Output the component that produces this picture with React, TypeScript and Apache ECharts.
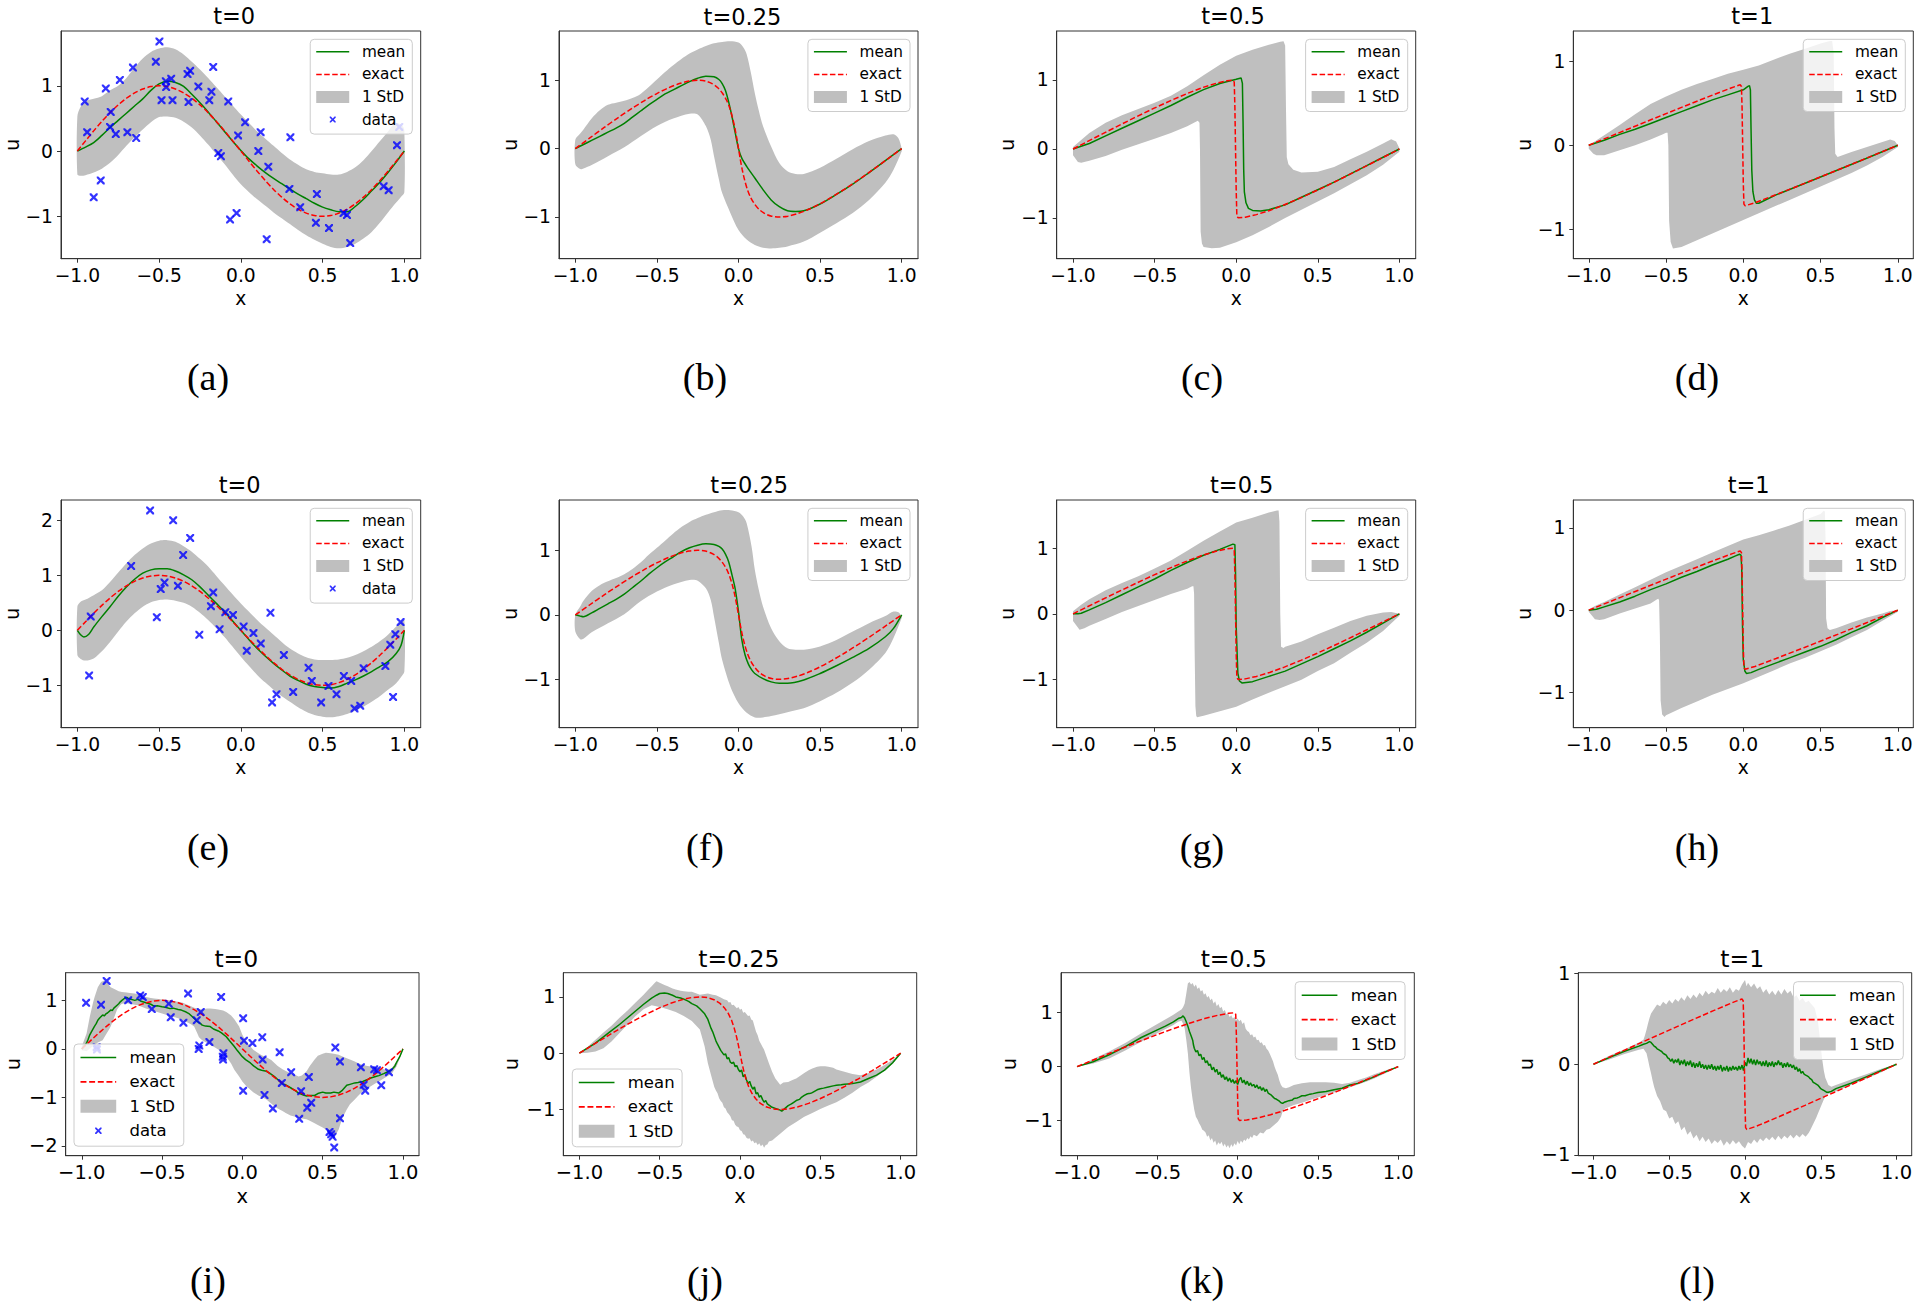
import React, { useEffect, useRef } from "react";
import * as echarts from "echarts";

// ---------------- tick values / labels ----------------
const xTicks = [-1, -0.5, 0, 0.5, 1];
const xTickLabels = ["\u22121.0", "\u22120.5", "0.0", "0.5", "1.0"];
const yTicksAll = [-2, -1, 0, 1, 2];
const yTickLabelsAll = ["\u22122", "\u22121", "0", "1", "2"];

const titles = ["t=0", "t=0.25", "t=0.5", "t=1", "t=0", "t=0.25", "t=0.5", "t=1", "t=0", "t=0.25", "t=0.5", "t=1"];
const captions = ["(a)", "(b)", "(c)", "(d)", "(e)", "(f)", "(g)", "(h)", "(i)", "(j)", "(k)", "(l)"];

// ---------------- exact solutions ----------------
const exactT0 = [[-1,0],[-0.95,0.156],[-0.9,0.309],[-0.85,0.454],[-0.8,0.588],[-0.75,0.707],[-0.7,0.809],[-0.65,0.891],[-0.6,0.951],[-0.55,0.988],[-0.5,1],[-0.45,0.988],[-0.4,0.951],[-0.35,0.891],[-0.3,0.809],[-0.25,0.707],[-0.2,0.588],[-0.15,0.454],[-0.1,0.309],[-0.05,0.156],[0,0],[0.05,-0.156],[0.1,-0.309],[0.15,-0.454],[0.2,-0.588],[0.25,-0.707],[0.3,-0.809],[0.35,-0.891],[0.4,-0.951],[0.45,-0.988],[0.5,-1],[0.55,-0.988],[0.6,-0.951],[0.65,-0.891],[0.7,-0.809],[0.75,-0.707],[0.8,-0.588],[0.85,-0.454],[0.9,-0.309],[0.95,-0.156],[1,0]];
const exactT025 = [[-1,0],[-0.911,0.156],[-0.823,0.309],[-0.737,0.454],[-0.653,0.588],[-0.573,0.707],[-0.498,0.809],[-0.427,0.891],[-0.362,0.951],[-0.303,0.988],[-0.25,1],[-0.203,0.988],[-0.162,0.951],[-0.127,0.891],[-0.098,0.809],[-0.073,0.707],[-0.053,0.588],[-0.037,0.454],[-0.023,0.309],[-0.011,0.156],[0,0],[0.011,-0.156],[0.023,-0.309],[0.037,-0.454],[0.053,-0.588],[0.073,-0.707],[0.098,-0.809],[0.127,-0.891],[0.162,-0.951],[0.203,-0.988],[0.25,-1],[0.303,-0.988],[0.362,-0.951],[0.427,-0.891],[0.498,-0.809],[0.573,-0.707],[0.653,-0.588],[0.737,-0.454],[0.823,-0.309],[0.911,-0.156],[1,0]];
const exactT05 = [[-1,0],[-0.872,0.156],[-0.745,0.309],[-0.623,0.454],[-0.506,0.588],[-0.396,0.707],[-0.295,0.809],[-0.205,0.891],[-0.124,0.951],[-0.056,0.988],[-0.02,0.998],[-0.012,0.97],[-0.008,0.6],[-0.004,0],[0,-0.6],[0.004,-0.97],[0.012,-0.998],[0.056,-0.988],[0.124,-0.951],[0.205,-0.891],[0.295,-0.809],[0.396,-0.707],[0.506,-0.588],[0.623,-0.454],[0.745,-0.309],[0.872,-0.156],[1,0]];
const exactT1 = [[-1,0],[-0.794,0.156],[-0.591,0.309],[-0.396,0.454],[-0.212,0.588],[-0.075,0.685],[-0.02,0.72],[-0.012,0.70],[-0.008,0.45],[-0.004,0],[0,-0.45],[0.004,-0.70],[0.012,-0.72],[0.075,-0.685],[0.212,-0.588],[0.396,-0.454],[0.591,-0.309],[0.794,-0.156],[1,0]];

// ---------------- panel (a) ----------------
const meanA = [[-1,0],[-0.95,0.06],[-0.9,0.13],[-0.85,0.24],[-0.8,0.36],[-0.75,0.47],[-0.7,0.58],[-0.65,0.69],[-0.6,0.8],[-0.55,0.93],[-0.5,1.03],[-0.45,1.07],[-0.4,1.05],[-0.35,0.99],[-0.3,0.87],[-0.25,0.74],[-0.2,0.6],[-0.15,0.45],[-0.1,0.3],[-0.05,0.15],[0,0.01],[0.05,-0.12],[0.1,-0.23],[0.15,-0.33],[0.2,-0.42],[0.25,-0.5],[0.3,-0.58],[0.35,-0.66],[0.4,-0.73],[0.45,-0.8],[0.5,-0.86],[0.55,-0.9],[0.6,-0.93],[0.65,-0.93],[0.7,-0.85],[0.75,-0.74],[0.8,-0.61],[0.85,-0.48],[0.9,-0.33],[0.95,-0.17],[1,0]];
const upperA = [[-1,0.53],[-0.98,0.68],[-0.95,0.76],[-0.9,0.8],[-0.85,0.84],[-0.8,0.93],[-0.75,1.0],[-0.7,1.12],[-0.65,1.28],[-0.6,1.42],[-0.55,1.52],[-0.5,1.57],[-0.45,1.59],[-0.4,1.56],[-0.35,1.48],[-0.3,1.37],[-0.25,1.25],[-0.2,1.12],[-0.15,0.98],[-0.1,0.84],[-0.05,0.7],[0,0.56],[0.05,0.43],[0.1,0.3],[0.15,0.19],[0.2,0.08],[0.25,-0.03],[0.3,-0.13],[0.35,-0.21],[0.4,-0.28],[0.45,-0.32],[0.5,-0.34],[0.55,-0.36],[0.6,-0.36],[0.65,-0.32],[0.7,-0.25],[0.75,-0.14],[0.8,0.0],[0.85,0.15],[0.9,0.3],[0.93,0.4],[0.96,0.43],[0.99,0.38],[1,0.32]];
const lowerA = [[-1,-0.36],[-0.98,-0.38],[-0.95,-0.37],[-0.9,-0.33],[-0.85,-0.27],[-0.8,-0.18],[-0.75,-0.06],[-0.7,0.08],[-0.65,0.21],[-0.6,0.33],[-0.55,0.44],[-0.5,0.52],[-0.45,0.53],[-0.4,0.51],[-0.35,0.45],[-0.3,0.36],[-0.25,0.24],[-0.2,0.1],[-0.15,-0.05],[-0.1,-0.2],[-0.05,-0.36],[0,-0.51],[0.05,-0.63],[0.1,-0.74],[0.15,-0.84],[0.2,-0.94],[0.25,-1.03],[0.3,-1.12],[0.35,-1.21],[0.4,-1.29],[0.45,-1.36],[0.5,-1.42],[0.55,-1.47],[0.6,-1.49],[0.65,-1.47],[0.7,-1.42],[0.75,-1.34],[0.8,-1.24],[0.85,-1.1],[0.9,-0.94],[0.95,-0.79],[0.98,-0.7],[1,-0.63]];
const dataA = [[-0.955,0.76],[-0.94,0.29],[-0.9,-0.71],[-0.857,-0.45],[-0.826,0.96],[-0.8,0.37],[-0.796,0.6],[-0.765,0.26],[-0.74,1.09],[-0.694,0.29],[-0.66,1.28],[-0.64,0.2],[-0.52,1.37],[-0.498,1.68],[-0.485,0.78],[-0.459,1.07],[-0.457,0.98],[-0.426,1.11],[-0.418,0.78],[-0.326,1.18],[-0.31,1.23],[-0.32,0.75],[-0.26,0.99],[-0.193,0.78],[-0.18,0.91],[-0.169,1.29],[-0.138,-0.03],[-0.122,-0.08],[-0.077,0.76],[-0.066,-1.05],[-0.026,-0.95],[-0.017,0.24],[0.026,0.44],[0.107,0.0],[0.121,0.29],[0.158,-1.35],[0.168,-0.24],[0.297,-0.58],[0.303,0.21],[0.363,-0.86],[0.459,-1.1],[0.465,-0.66],[0.539,-1.18],[0.628,-0.95],[0.649,-0.98],[0.669,-1.41],[0.873,-0.54],[0.904,-0.6],[0.955,0.09],[0.969,0.37]];

// ---------------- panel (b) ----------------
const meanB = [[-1,0],[-0.95,0.06],[-0.9,0.12],[-0.85,0.18],[-0.8,0.24],[-0.75,0.3],[-0.7,0.37],[-0.65,0.46],[-0.6,0.55],[-0.55,0.64],[-0.5,0.72],[-0.45,0.8],[-0.4,0.86],[-0.35,0.92],[-0.3,0.98],[-0.25,1.03],[-0.2,1.06],[-0.15,1.05],[-0.12,1.01],[-0.1,0.95],[-0.08,0.85],[-0.06,0.68],[-0.04,0.47],[-0.02,0.23],[0,0.0],[0.02,-0.14],[0.05,-0.26],[0.1,-0.43],[0.15,-0.6],[0.2,-0.75],[0.25,-0.85],[0.3,-0.91],[0.35,-0.92],[0.4,-0.91],[0.5,-0.81],[0.6,-0.67],[0.7,-0.52],[0.8,-0.35],[0.9,-0.175],[1,0]];
const upperB = [[-1,0.13],[-0.97,0.22],[-0.95,0.28],[-0.9,0.44],[-0.85,0.56],[-0.8,0.64],[-0.75,0.67],[-0.7,0.7],[-0.65,0.74],[-0.6,0.8],[-0.55,0.9],[-0.5,1.01],[-0.45,1.12],[-0.4,1.22],[-0.35,1.31],[-0.3,1.39],[-0.25,1.45],[-0.2,1.5],[-0.15,1.54],[-0.1,1.56],[-0.05,1.57],[0,1.55],[0.03,1.48],[0.05,1.38],[0.075,1.12],[0.1,0.81],[0.125,0.55],[0.15,0.33],[0.2,0.03],[0.25,-0.21],[0.3,-0.33],[0.35,-0.37],[0.4,-0.37],[0.5,-0.28],[0.6,-0.15],[0.7,-0.01],[0.8,0.11],[0.9,0.19],[0.95,0.21],[0.98,0.15],[1,0.0]];
const lowerB = [[-1,-0.23],[-0.97,-0.3],[-0.95,-0.29],[-0.9,-0.24],[-0.8,-0.11],[-0.7,0.02],[-0.6,0.18],[-0.5,0.33],[-0.4,0.44],[-0.3,0.51],[-0.25,0.5],[-0.2,0.33],[-0.17,0.13],[-0.15,-0.11],[-0.12,-0.45],[-0.1,-0.65],[-0.05,-0.94],[0,-1.19],[0.05,-1.33],[0.1,-1.41],[0.15,-1.45],[0.2,-1.46],[0.25,-1.45],[0.3,-1.43],[0.4,-1.36],[0.5,-1.23],[0.6,-1.09],[0.7,-0.94],[0.8,-0.75],[0.9,-0.5],[0.95,-0.31],[1,-0.04]];

// ---------------- panel (c) ----------------
const meanC = [[-1,0],[-0.9,0.08],[-0.8,0.19],[-0.7,0.3],[-0.6,0.41],[-0.5,0.52],[-0.4,0.63],[-0.3,0.75],[-0.2,0.86],[-0.1,0.95],[0,1.01],[0.03,1.03],[0.038,0.95],[0.042,0.4],[0.046,-0.3],[0.05,-0.62],[0.06,-0.78],[0.075,-0.86],[0.1,-0.89],[0.15,-0.9],[0.2,-0.88],[0.3,-0.81],[0.4,-0.7],[0.5,-0.59],[0.6,-0.48],[0.7,-0.36],[0.8,-0.24],[0.9,-0.12],[1,0]];
const upperC = [[-1,0.03],[-0.95,0.13],[-0.9,0.23],[-0.8,0.38],[-0.7,0.49],[-0.6,0.58],[-0.5,0.67],[-0.4,0.77],[-0.3,0.91],[-0.2,1.07],[-0.1,1.22],[0,1.35],[0.1,1.44],[0.2,1.51],[0.27,1.555],[0.29,1.56],[0.3,1.5],[0.305,0.6],[0.31,-0.12],[0.32,-0.22],[0.35,-0.3],[0.4,-0.34],[0.5,-0.33],[0.6,-0.26],[0.7,-0.15],[0.8,-0.04],[0.9,0.08],[0.95,0.14],[0.98,0.11],[1,0.01]];
const lowerC = [[-1,-0.09],[-0.97,-0.19],[-0.95,-0.2],[-0.9,-0.17],[-0.8,-0.1],[-0.7,-0.01],[-0.6,0.07],[-0.5,0.15],[-0.4,0.23],[-0.3,0.33],[-0.25,0.39],[-0.235,0.41],[-0.225,0.38],[-0.222,0.0],[-0.218,-1.2],[-0.21,-1.37],[-0.2,-1.42],[-0.15,-1.44],[-0.1,-1.43],[0,-1.35],[0.1,-1.25],[0.2,-1.13],[0.3,-1.0],[0.4,-0.88],[0.5,-0.76],[0.6,-0.64],[0.7,-0.51],[0.8,-0.38],[0.9,-0.23],[1,-0.04]];

// ---------------- panel (d) ----------------
const meanD = [[-1,0],[-0.9,0.06],[-0.8,0.13],[-0.7,0.19],[-0.6,0.26],[-0.5,0.33],[-0.4,0.4],[-0.3,0.47],[-0.2,0.54],[-0.1,0.6],[0,0.66],[0.03,0.7],[0.04,0.71],[0.046,0.66],[0.05,0.2],[0.055,-0.3],[0.062,-0.55],[0.072,-0.65],[0.085,-0.69],[0.1,-0.69],[0.212,-0.59],[0.396,-0.455],[0.591,-0.31],[0.794,-0.157],[1,0]];
const upperD = [[-1,0.0],[-0.95,0.06],[-0.9,0.12],[-0.8,0.24],[-0.7,0.37],[-0.6,0.49],[-0.5,0.58],[-0.4,0.66],[-0.3,0.73],[-0.2,0.79],[-0.1,0.85],[0,0.9],[0.1,0.95],[0.2,1.02],[0.3,1.09],[0.4,1.15],[0.5,1.21],[0.56,1.24],[0.575,1.24],[0.585,1.1],[0.59,0.2],[0.595,-0.1],[0.61,-0.14],[0.7,-0.08],[0.8,-0.02],[0.9,0.04],[0.95,0.07],[0.98,0.05],[1,0.0]];
const lowerD = [[-1,-0.04],[-0.97,-0.1],[-0.95,-0.12],[-0.9,-0.12],[-0.8,-0.06],[-0.7,0.0],[-0.6,0.07],[-0.52,0.13],[-0.5,0.15],[-0.49,0.15],[-0.485,0.0],[-0.48,-0.9],[-0.47,-1.15],[-0.455,-1.23],[-0.4,-1.21],[-0.3,-1.13],[-0.2,-1.05],[-0.1,-0.97],[0,-0.89],[0.1,-0.81],[0.2,-0.73],[0.3,-0.65],[0.4,-0.57],[0.5,-0.49],[0.6,-0.41],[0.7,-0.33],[0.8,-0.24],[0.9,-0.14],[1,-0.02]];

// ---------------- panel (e) ----------------
const meanE = [[-1,0],[-0.98,-0.08],[-0.96,-0.12],[-0.93,-0.07],[-0.9,0.06],[-0.85,0.25],[-0.8,0.43],[-0.75,0.62],[-0.7,0.79],[-0.65,0.93],[-0.6,1.04],[-0.55,1.1],[-0.5,1.12],[-0.45,1.12],[-0.4,1.08],[-0.35,1.01],[-0.3,0.92],[-0.25,0.79],[-0.2,0.64],[-0.15,0.49],[-0.1,0.34],[-0.05,0.17],[0,0.0],[0.05,-0.17],[0.1,-0.33],[0.15,-0.47],[0.2,-0.6],[0.25,-0.72],[0.3,-0.83],[0.35,-0.91],[0.4,-0.98],[0.45,-1.02],[0.5,-1.04],[0.55,-1.05],[0.6,-1.02],[0.65,-0.96],[0.7,-0.9],[0.75,-0.83],[0.8,-0.75],[0.85,-0.66],[0.9,-0.57],[0.95,-0.42],[0.98,-0.27],[1,0]];
const upperE = [[-1,0.43],[-0.98,0.52],[-0.95,0.56],[-0.9,0.64],[-0.85,0.73],[-0.8,0.88],[-0.75,1.05],[-0.7,1.22],[-0.65,1.37],[-0.6,1.49],[-0.55,1.58],[-0.5,1.63],[-0.45,1.64],[-0.4,1.61],[-0.35,1.53],[-0.3,1.43],[-0.25,1.3],[-0.2,1.16],[-0.15,0.99],[-0.1,0.82],[-0.05,0.65],[0,0.49],[0.05,0.34],[0.1,0.19],[0.15,0.05],[0.2,-0.08],[0.25,-0.21],[0.3,-0.33],[0.35,-0.42],[0.4,-0.49],[0.45,-0.53],[0.5,-0.54],[0.55,-0.54],[0.6,-0.53],[0.65,-0.5],[0.7,-0.45],[0.75,-0.38],[0.8,-0.3],[0.85,-0.2],[0.9,-0.08],[0.95,0.07],[0.98,0.15],[1,0.19]];
const lowerE = [[-1,-0.45],[-0.98,-0.52],[-0.95,-0.55],[-0.9,-0.51],[-0.85,-0.38],[-0.8,-0.21],[-0.75,-0.02],[-0.7,0.16],[-0.65,0.31],[-0.6,0.43],[-0.55,0.51],[-0.5,0.55],[-0.45,0.56],[-0.4,0.54],[-0.35,0.5],[-0.3,0.43],[-0.25,0.32],[-0.2,0.19],[-0.15,0.04],[-0.1,-0.12],[-0.05,-0.3],[0,-0.48],[0.05,-0.65],[0.1,-0.81],[0.15,-0.95],[0.2,-1.08],[0.25,-1.2],[0.3,-1.3],[0.35,-1.4],[0.4,-1.48],[0.45,-1.54],[0.5,-1.57],[0.55,-1.58],[0.6,-1.56],[0.65,-1.52],[0.7,-1.46],[0.75,-1.39],[0.8,-1.3],[0.85,-1.2],[0.9,-1.08],[0.95,-0.96],[0.98,-0.85],[1,-0.75]];
const dataE = [[-0.928,-0.82],[-0.918,0.25],[-0.671,1.17],[-0.555,2.18],[-0.514,0.24],[-0.49,0.75],[-0.467,0.87],[-0.414,2.0],[-0.385,0.81],[-0.353,1.37],[-0.31,1.68],[-0.254,-0.08],[-0.183,0.44],[-0.169,0.69],[-0.13,0.02],[-0.095,0.33],[-0.048,0.28],[0.017,0.07],[0.036,-0.37],[0.077,-0.05],[0.122,-0.24],[0.181,0.32],[0.191,-1.31],[0.218,-1.16],[0.263,-0.45],[0.32,-1.12],[0.414,-0.68],[0.434,-0.92],[0.491,-1.31],[0.536,-1.01],[0.585,-1.16],[0.63,-0.83],[0.675,-0.92],[0.695,-1.42],[0.73,-1.37],[0.751,-0.69],[0.884,-0.65],[0.914,-0.26],[0.931,-1.21],[0.945,-0.07],[0.977,0.15]];

// ---------------- panel (f) ----------------
const meanF = [[-1,0],[-0.97,-0.02],[-0.95,-0.03],[-0.9,0.03],[-0.85,0.1],[-0.8,0.17],[-0.75,0.24],[-0.7,0.32],[-0.65,0.42],[-0.6,0.52],[-0.55,0.63],[-0.5,0.73],[-0.45,0.82],[-0.4,0.9],[-0.35,0.98],[-0.3,1.04],[-0.25,1.08],[-0.2,1.1],[-0.15,1.09],[-0.12,1.06],[-0.1,1.02],[-0.08,0.94],[-0.06,0.82],[-0.04,0.62],[-0.02,0.4],[0,0.05],[0.02,-0.38],[0.04,-0.62],[0.06,-0.76],[0.08,-0.85],[0.1,-0.91],[0.15,-0.99],[0.2,-1.04],[0.25,-1.06],[0.3,-1.06],[0.4,-1.01],[0.5,-0.91],[0.6,-0.79],[0.7,-0.66],[0.8,-0.52],[0.9,-0.34],[0.95,-0.21],[1,0]];
const upperF = [[-1,0.0],[-0.97,0.13],[-0.95,0.22],[-0.9,0.37],[-0.85,0.46],[-0.8,0.52],[-0.75,0.57],[-0.7,0.63],[-0.65,0.71],[-0.6,0.81],[-0.55,0.93],[-0.5,1.04],[-0.45,1.15],[-0.4,1.26],[-0.35,1.36],[-0.3,1.44],[-0.25,1.5],[-0.2,1.55],[-0.15,1.59],[-0.1,1.62],[-0.05,1.62],[0,1.59],[0.03,1.52],[0.05,1.42],[0.08,1.06],[0.1,0.7],[0.125,0.38],[0.15,0.13],[0.2,-0.21],[0.25,-0.41],[0.3,-0.52],[0.35,-0.54],[0.4,-0.54],[0.5,-0.49],[0.6,-0.39],[0.7,-0.26],[0.8,-0.13],[0.9,-0.02],[0.95,0.05],[0.98,0.04],[1,-0.03]];
const lowerF = [[-1,-0.26],[-0.97,-0.38],[-0.95,-0.37],[-0.9,-0.27],[-0.8,-0.13],[-0.7,0.01],[-0.6,0.21],[-0.5,0.36],[-0.4,0.47],[-0.3,0.54],[-0.25,0.53],[-0.2,0.41],[-0.17,0.23],[-0.15,-0.03],[-0.12,-0.44],[-0.1,-0.7],[-0.05,-1.11],[0,-1.37],[0.05,-1.52],[0.1,-1.59],[0.15,-1.59],[0.2,-1.57],[0.3,-1.51],[0.4,-1.45],[0.5,-1.34],[0.6,-1.21],[0.7,-1.05],[0.8,-0.85],[0.9,-0.59],[0.95,-0.36],[1,-0.05]];

// ---------------- panel (g) ----------------
const meanG = [[-1,0],[-0.97,0.0],[-0.95,0.01],[-0.9,0.06],[-0.8,0.17],[-0.7,0.29],[-0.6,0.41],[-0.5,0.53],[-0.4,0.66],[-0.3,0.78],[-0.2,0.89],[-0.1,0.98],[-0.02,1.06],[-0.008,1.05],[-0.004,0.6],[0,-0.2],[0.01,-0.9],[0.02,-1.02],[0.035,-1.05],[0.1,-1.03],[0.2,-0.95],[0.3,-0.87],[0.4,-0.76],[0.5,-0.65],[0.6,-0.53],[0.7,-0.41],[0.8,-0.28],[0.9,-0.14],[0.95,-0.07],[1,0]];
const upperG = [[-1,0.04],[-0.95,0.14],[-0.9,0.22],[-0.8,0.36],[-0.7,0.47],[-0.6,0.57],[-0.5,0.69],[-0.4,0.81],[-0.3,0.96],[-0.2,1.11],[-0.1,1.25],[0,1.39],[0.1,1.46],[0.2,1.54],[0.25,1.57],[0.26,1.57],[0.265,1.4],[0.27,0.0],[0.275,-0.5],[0.29,-0.52],[0.3,-0.5],[0.4,-0.42],[0.5,-0.31],[0.6,-0.21],[0.7,-0.11],[0.8,-0.03],[0.9,0.02],[0.95,0.03],[1,0]];
const lowerG = [[-1,-0.11],[-0.96,-0.24],[-0.93,-0.22],[-0.9,-0.18],[-0.8,-0.08],[-0.7,0.03],[-0.6,0.12],[-0.5,0.21],[-0.4,0.3],[-0.3,0.38],[-0.27,0.42],[-0.262,0.42],[-0.258,0.3],[-0.255,-0.5],[-0.25,-1.4],[-0.245,-1.55],[-0.24,-1.57],[-0.2,-1.55],[-0.1,-1.48],[0,-1.41],[0.1,-1.3],[0.2,-1.2],[0.3,-1.1],[0.4,-1.0],[0.5,-0.87],[0.6,-0.75],[0.7,-0.59],[0.8,-0.44],[0.9,-0.26],[1,-0.03]];

// ---------------- panel (h) ----------------
const meanH = [[-1,0],[-0.95,0.01],[-0.9,0.04],[-0.8,0.1],[-0.7,0.17],[-0.6,0.25],[-0.5,0.32],[-0.4,0.4],[-0.3,0.47],[-0.2,0.55],[-0.1,0.62],[-0.05,0.66],[-0.025,0.68],[-0.015,0.67],[-0.01,0.5],[-0.005,-0.2],[0,-0.6],[0.01,-0.74],[0.02,-0.77],[0.05,-0.76],[0.1,-0.72],[0.2,-0.65],[0.3,-0.58],[0.4,-0.51],[0.5,-0.44],[0.6,-0.36],[0.7,-0.27],[0.8,-0.19],[0.9,-0.09],[1,0]];
const upperH = [[-1,0.01],[-0.95,0.06],[-0.9,0.1],[-0.8,0.19],[-0.7,0.28],[-0.6,0.37],[-0.5,0.46],[-0.4,0.54],[-0.3,0.62],[-0.2,0.7],[-0.1,0.78],[0,0.86],[0.1,0.91],[0.2,0.97],[0.3,1.03],[0.4,1.1],[0.5,1.17],[0.52,1.21],[0.528,1.2],[0.532,0.9],[0.536,-0.1],[0.545,-0.22],[0.56,-0.24],[0.6,-0.22],[0.7,-0.15],[0.8,-0.09],[0.9,-0.04],[0.95,-0.01],[1,0]];
const lowerH = [[-1,-0.02],[-0.96,-0.11],[-0.93,-0.12],[-0.9,-0.11],[-0.8,-0.04],[-0.7,0.02],[-0.6,0.08],[-0.56,0.13],[-0.55,0.14],[-0.545,0.12],[-0.54,-0.3],[-0.535,-1.1],[-0.525,-1.27],[-0.51,-1.3],[-0.5,-1.28],[-0.4,-1.19],[-0.3,-1.11],[-0.2,-1.03],[-0.1,-0.96],[0,-0.89],[0.1,-0.81],[0.2,-0.73],[0.3,-0.65],[0.4,-0.58],[0.5,-0.5],[0.6,-0.42],[0.7,-0.33],[0.8,-0.24],[0.9,-0.13],[1,-0.02]];

// ---------------- panel (i) ----------------
const meanI = [[-1,0],[-0.98,0.08],[-0.97,0.12],[-0.96,0.2],[-0.95,0.29],[-0.94,0.35],[-0.92,0.47],[-0.91,0.52],[-0.9,0.59],[-0.89,0.63],[-0.87,0.7],[-0.86,0.68],[-0.85,0.72],[-0.84,0.74],[-0.82,0.8],[-0.81,0.79],[-0.8,0.84],[-0.78,0.9],[-0.77,0.93],[-0.76,0.97],[-0.75,1.0],[-0.73,1.05],[-0.72,1.06],[-0.71,1.04],[-0.7,1.03],[-0.68,1.01],[-0.67,1.0],[-0.65,1.02],[-0.63,0.98],[-0.62,0.97],[-0.6,0.95],[-0.58,0.93],[-0.57,0.92],[-0.55,0.88],[-0.53,0.89],[-0.5,0.87],[-0.48,0.86],[-0.45,0.83],[-0.43,0.84],[-0.4,0.81],[-0.38,0.8],[-0.35,0.76],[-0.33,0.72],[-0.3,0.63],[-0.28,0.56],[-0.26,0.52],[-0.25,0.49],[-0.23,0.47],[-0.2,0.46],[-0.18,0.41],[-0.15,0.37],[-0.13,0.33],[-0.1,0.25],[-0.08,0.17],[-0.05,0.05],[-0.03,-0.04],[0,-0.16],[0.02,-0.22],[0.05,-0.29],[0.07,-0.35],[0.1,-0.42],[0.12,-0.44],[0.15,-0.46],[0.17,-0.5],[0.2,-0.57],[0.22,-0.63],[0.25,-0.72],[0.27,-0.74],[0.3,-0.8],[0.33,-0.86],[0.35,-0.91],[0.38,-0.95],[0.4,-0.97],[0.42,-0.96],[0.45,-0.96],[0.47,-0.92],[0.5,-0.89],[0.52,-0.91],[0.55,-0.91],[0.57,-0.89],[0.6,-0.91],[0.62,-0.86],[0.65,-0.75],[0.67,-0.73],[0.7,-0.7],[0.72,-0.69],[0.75,-0.67],[0.78,-0.63],[0.8,-0.6],[0.83,-0.57],[0.85,-0.55],[0.88,-0.51],[0.9,-0.48],[0.93,-0.43],[0.95,-0.35],[0.96,-0.28],[0.98,-0.16],[1,0]];
const upperI = [[-1,0.05],[-0.97,0.32],[-0.95,0.66],[-0.93,0.95],[-0.92,1.07],[-0.9,1.27],[-0.88,1.38],[-0.86,1.41],[-0.84,1.36],[-0.82,1.27],[-0.8,1.24],[-0.77,1.19],[-0.75,1.17],[-0.72,1.16],[-0.7,1.15],[-0.67,1.14],[-0.65,1.12],[-0.62,1.09],[-0.6,1.07],[-0.57,1.05],[-0.55,1.04],[-0.52,1.03],[-0.5,1.02],[-0.47,1.01],[-0.45,1.0],[-0.42,0.98],[-0.4,0.97],[-0.37,0.95],[-0.35,0.92],[-0.32,0.88],[-0.3,0.85],[-0.27,0.82],[-0.25,0.81],[-0.22,0.83],[-0.2,0.83],[-0.17,0.82],[-0.15,0.81],[-0.12,0.79],[-0.1,0.76],[-0.07,0.69],[-0.05,0.61],[-0.02,0.46],[0,0.29],[0.02,0.17],[0.05,0.05],[0.07,-0.02],[0.1,-0.09],[0.12,-0.13],[0.15,-0.17],[0.18,-0.23],[0.2,-0.29],[0.22,-0.35],[0.25,-0.42],[0.28,-0.47],[0.3,-0.5],[0.33,-0.54],[0.35,-0.57],[0.37,-0.55],[0.4,-0.46],[0.42,-0.35],[0.45,-0.22],[0.47,-0.14],[0.5,-0.1],[0.52,-0.08],[0.55,-0.09],[0.57,-0.1],[0.6,-0.12],[0.62,-0.15],[0.65,-0.19],[0.67,-0.22],[0.7,-0.26],[0.72,-0.29],[0.75,-0.33],[0.78,-0.35],[0.8,-0.36],[0.83,-0.38],[0.85,-0.4],[0.88,-0.42],[0.9,-0.43],[0.93,-0.4],[0.96,-0.26],[0.98,-0.14],[1,0]];
const lowerI = [[-1,-0.03],[-0.97,-0.05],[-0.95,0.01],[-0.92,0.08],[-0.9,0.13],[-0.87,0.18],[-0.85,0.29],[-0.83,0.4],[-0.82,0.46],[-0.8,0.63],[-0.78,0.81],[-0.76,0.9],[-0.75,0.93],[-0.72,0.94],[-0.7,0.93],[-0.67,0.91],[-0.65,0.9],[-0.62,0.86],[-0.6,0.83],[-0.57,0.8],[-0.55,0.78],[-0.52,0.75],[-0.5,0.73],[-0.47,0.7],[-0.45,0.67],[-0.42,0.65],[-0.4,0.63],[-0.37,0.59],[-0.35,0.56],[-0.32,0.51],[-0.3,0.46],[-0.28,0.32],[-0.27,0.24],[-0.25,0.18],[-0.22,0.12],[-0.2,0.08],[-0.17,0.03],[-0.15,-0.01],[-0.12,-0.09],[-0.1,-0.16],[-0.07,-0.3],[-0.05,-0.43],[-0.02,-0.57],[0,-0.67],[0.02,-0.75],[0.05,-0.84],[0.07,-0.9],[0.1,-0.96],[0.12,-0.99],[0.15,-1.04],[0.17,-1.1],[0.2,-1.18],[0.22,-1.23],[0.25,-1.28],[0.27,-1.32],[0.3,-1.37],[0.33,-1.4],[0.35,-1.42],[0.38,-1.44],[0.4,-1.45],[0.42,-1.48],[0.45,-1.53],[0.47,-1.57],[0.5,-1.62],[0.52,-1.66],[0.55,-1.72],[0.57,-1.81],[0.58,-1.78],[0.6,-1.66],[0.62,-1.45],[0.65,-1.25],[0.67,-1.14],[0.7,-1.04],[0.72,-0.97],[0.75,-0.87],[0.78,-0.81],[0.8,-0.77],[0.83,-0.71],[0.85,-0.67],[0.88,-0.61],[0.9,-0.57],[0.93,-0.51],[0.96,-0.36],[0.98,-0.2],[1,-0.02]];
const dataI = [[-0.973,0.95],[-0.907,0.04],[-0.905,-0.01],[-0.88,0.91],[-0.845,1.4],[-0.711,1.0],[-0.636,1.1],[-0.62,1.07],[-0.564,0.82],[-0.458,0.93],[-0.446,0.65],[-0.367,0.54],[-0.338,1.14],[-0.284,0.59],[-0.272,0.0],[-0.268,0.07],[-0.259,0.76],[-0.205,0.14],[-0.132,1.07],[-0.122,-0.16],[-0.118,-0.09],[-0.12,-0.22],[0.005,0.63],[0.005,-0.86],[0.01,0.17],[0.063,0.12],[0.124,0.24],[0.126,-0.22],[0.138,-0.95],[0.19,-1.23],[0.232,-0.07],[0.246,-0.7],[0.304,-0.48],[0.354,-1.44],[0.366,-0.87],[0.404,-1.21],[0.414,-0.58],[0.429,-1.11],[0.543,-1.71],[0.553,-1.76],[0.562,-1.81],[0.572,-2.03],[0.579,0.03],[0.608,-0.26],[0.608,-1.43],[0.738,-0.38],[0.755,-0.74],[0.765,-0.86],[0.821,-0.42],[0.838,-0.44],[0.865,-0.75],[0.913,-0.48]];

// ---------------- panel (j) ----------------
const meanJ = [[-1,0],[-0.95,0.09],[-0.9,0.18],[-0.85,0.29],[-0.8,0.4],[-0.75,0.51],[-0.7,0.63],[-0.65,0.75],[-0.6,0.87],[-0.55,0.98],[-0.52,1.03],[-0.5,1.06],[-0.47,1.07],[-0.45,1.06],[-0.42,1.03],[-0.4,1.0],[-0.37,0.98],[-0.35,0.96],[-0.32,0.92],[-0.3,0.88],[-0.27,0.84],[-0.25,0.79],[-0.22,0.7],[-0.2,0.6],[-0.18,0.44],[-0.17,0.38],[-0.15,0.22],[-0.14,0.16],[-0.12,0.05],[-0.1,-0.03],[-0.09,-0.01],[-0.08,-0.1],[-0.07,-0.08],[-0.06,-0.16],[-0.05,-0.18],[-0.04,-0.16],[-0.03,-0.24],[-0.02,-0.22],[-0.01,-0.29],[0,-0.33],[0.01,-0.3],[0.02,-0.42],[0.03,-0.38],[0.04,-0.47],[0.05,-0.54],[0.06,-0.5],[0.07,-0.58],[0.08,-0.64],[0.09,-0.6],[0.1,-0.72],[0.11,-0.7],[0.12,-0.78],[0.13,-0.75],[0.14,-0.82],[0.15,-0.87],[0.16,-0.84],[0.17,-0.9],[0.2,-0.96],[0.22,-0.98],[0.25,-1.01],[0.26,-1.03],[0.28,-0.98],[0.3,-0.93],[0.32,-0.9],[0.33,-0.88],[0.35,-0.84],[0.37,-0.82],[0.38,-0.79],[0.4,-0.75],[0.42,-0.72],[0.44,-0.71],[0.45,-0.7],[0.48,-0.65],[0.5,-0.63],[0.52,-0.62],[0.55,-0.6],[0.58,-0.58],[0.6,-0.57],[0.63,-0.56],[0.65,-0.55],[0.7,-0.54],[0.75,-0.51],[0.8,-0.45],[0.85,-0.39],[0.9,-0.3],[0.95,-0.17],[1,0]];
const upperJ = [[-1,0],[-0.95,0.11],[-0.9,0.24],[-0.85,0.37],[-0.8,0.49],[-0.75,0.63],[-0.7,0.76],[-0.65,0.9],[-0.6,1.04],[-0.57,1.13],[-0.55,1.19],[-0.53,1.25],[-0.52,1.28],[-0.5,1.25],[-0.47,1.21],[-0.45,1.19],[-0.42,1.15],[-0.4,1.13],[-0.37,1.11],[-0.35,1.1],[-0.32,1.09],[-0.3,1.09],[-0.27,1.06],[-0.25,1.04],[-0.22,1.05],[-0.2,1.06],[-0.17,1.04],[-0.15,1.03],[-0.12,0.99],[-0.1,0.96],[-0.08,0.94],[-0.07,0.9],[-0.06,0.91],[-0.05,0.85],[-0.04,0.86],[-0.02,0.8],[-0.01,0.82],[0,0.77],[0.01,0.79],[0.02,0.72],[0.03,0.73],[0.05,0.66],[0.06,0.67],[0.07,0.6],[0.08,0.58],[0.09,0.48],[0.1,0.38],[0.11,0.32],[0.12,0.22],[0.13,0.17],[0.15,0.06],[0.16,-0.02],[0.17,-0.1],[0.18,-0.18],[0.2,-0.33],[0.22,-0.45],[0.25,-0.56],[0.27,-0.52],[0.3,-0.51],[0.33,-0.47],[0.35,-0.45],[0.38,-0.39],[0.4,-0.35],[0.43,-0.3],[0.45,-0.27],[0.48,-0.24],[0.5,-0.23],[0.53,-0.23],[0.55,-0.24],[0.58,-0.26],[0.6,-0.29],[0.65,-0.33],[0.7,-0.37],[0.75,-0.39],[0.8,-0.35],[0.85,-0.29],[0.9,-0.21],[0.95,-0.12],[1,0]];
const lowerJ = [[-1,0],[-0.95,0.01],[-0.9,0.03],[-0.85,0.09],[-0.8,0.21],[-0.75,0.36],[-0.7,0.51],[-0.65,0.66],[-0.6,0.78],[-0.55,0.85],[-0.5,0.82],[-0.45,0.78],[-0.4,0.73],[-0.35,0.66],[-0.3,0.57],[-0.25,0.42],[-0.22,0.12],[-0.2,-0.18],[-0.18,-0.39],[-0.16,-0.6],[-0.15,-0.66],[-0.14,-0.71],[-0.13,-0.8],[-0.12,-0.85],[-0.11,-0.88],[-0.1,-0.96],[-0.09,-0.98],[-0.08,-1.05],[-0.07,-1.08],[-0.06,-1.12],[-0.05,-1.19],[-0.04,-1.2],[-0.03,-1.27],[-0.02,-1.3],[-0.01,-1.31],[0,-1.37],[0.01,-1.38],[0.02,-1.44],[0.03,-1.45],[0.04,-1.5],[0.05,-1.52],[0.06,-1.51],[0.07,-1.57],[0.08,-1.55],[0.09,-1.6],[0.1,-1.58],[0.11,-1.63],[0.12,-1.6],[0.13,-1.65],[0.14,-1.62],[0.15,-1.68],[0.16,-1.63],[0.17,-1.62],[0.18,-1.57],[0.2,-1.55],[0.22,-1.5],[0.25,-1.43],[0.3,-1.31],[0.35,-1.22],[0.4,-1.13],[0.45,-1.06],[0.5,-0.99],[0.55,-0.93],[0.6,-0.87],[0.65,-0.79],[0.7,-0.7],[0.75,-0.6],[0.8,-0.52],[0.85,-0.42],[0.9,-0.31],[0.95,-0.19],[1,0]];

// ---------------- panel (k) ----------------
const meanK = [[-1,0],[-0.9,0.09],[-0.8,0.22],[-0.7,0.37],[-0.6,0.54],[-0.5,0.68],[-0.45,0.75],[-0.4,0.83],[-0.37,0.89],[-0.35,0.91],[-0.34,0.94],[-0.33,0.9],[-0.32,0.83],[-0.31,0.75],[-0.3,0.65],[-0.29,0.57],[-0.28,0.49],[-0.275,0.4],[-0.27,0.34],[-0.26,0.27],[-0.25,0.3],[-0.24,0.2],[-0.23,0.23],[-0.22,0.13],[-0.21,0.17],[-0.2,0.07],[-0.19,0.11],[-0.18,0.02],[-0.17,0.05],[-0.16,-0.06],[-0.15,-0.01],[-0.14,-0.1],[-0.13,-0.05],[-0.12,-0.15],[-0.11,-0.1],[-0.1,-0.2],[-0.09,-0.15],[-0.08,-0.24],[-0.07,-0.19],[-0.06,-0.27],[-0.05,-0.21],[-0.04,-0.29],[-0.03,-0.24],[-0.02,-0.31],[-0.01,-0.26],[0,-0.33],[0.01,-0.24],[0.02,-0.2],[0.03,-0.3],[0.04,-0.25],[0.05,-0.33],[0.06,-0.27],[0.07,-0.35],[0.08,-0.3],[0.09,-0.36],[0.1,-0.33],[0.11,-0.39],[0.12,-0.34],[0.13,-0.41],[0.14,-0.37],[0.15,-0.44],[0.16,-0.39],[0.17,-0.46],[0.18,-0.42],[0.19,-0.49],[0.2,-0.51],[0.21,-0.53],[0.22,-0.56],[0.23,-0.59],[0.24,-0.6],[0.25,-0.62],[0.26,-0.64],[0.27,-0.67],[0.28,-0.68],[0.29,-0.66],[0.3,-0.65],[0.32,-0.63],[0.34,-0.62],[0.35,-0.59],[0.37,-0.58],[0.38,-0.57],[0.4,-0.54],[0.42,-0.54],[0.45,-0.51],[0.47,-0.5],[0.5,-0.48],[0.55,-0.46],[0.6,-0.43],[0.65,-0.4],[0.7,-0.34],[0.75,-0.31],[0.8,-0.25],[0.85,-0.19],[0.9,-0.12],[0.95,-0.06],[1,0]];
const upperK = [[-1,0],[-0.9,0.14],[-0.8,0.28],[-0.7,0.44],[-0.6,0.62],[-0.5,0.79],[-0.4,0.96],[-0.37,1.02],[-0.35,1.06],[-0.34,1.1],[-0.33,1.17],[-0.32,1.35],[-0.31,1.54],[-0.3,1.57],[-0.29,1.52],[-0.28,1.55],[-0.27,1.48],[-0.26,1.52],[-0.25,1.44],[-0.24,1.47],[-0.23,1.39],[-0.22,1.42],[-0.21,1.33],[-0.2,1.36],[-0.19,1.28],[-0.18,1.31],[-0.17,1.23],[-0.16,1.26],[-0.15,1.17],[-0.14,1.21],[-0.13,1.12],[-0.12,1.16],[-0.11,1.08],[-0.1,1.11],[-0.09,1.02],[-0.08,1.05],[-0.07,0.97],[-0.06,0.99],[-0.05,0.92],[-0.04,0.95],[-0.03,0.89],[-0.02,0.92],[-0.01,0.86],[0,0.89],[0.01,0.84],[0.02,0.87],[0.03,0.79],[0.04,0.82],[0.05,0.7],[0.06,0.66],[0.07,0.64],[0.08,0.58],[0.09,0.6],[0.1,0.54],[0.11,0.56],[0.12,0.49],[0.13,0.5],[0.14,0.44],[0.15,0.45],[0.16,0.39],[0.17,0.4],[0.18,0.33],[0.19,0.3],[0.2,0.24],[0.22,0.1],[0.23,0.0],[0.24,-0.08],[0.25,-0.15],[0.26,-0.26],[0.27,-0.34],[0.28,-0.38],[0.3,-0.4],[0.32,-0.38],[0.35,-0.34],[0.4,-0.31],[0.45,-0.29],[0.5,-0.29],[0.55,-0.29],[0.6,-0.3],[0.65,-0.32],[0.7,-0.3],[0.75,-0.25],[0.8,-0.2],[0.85,-0.14],[0.9,-0.09],[0.95,-0.04],[1,0]];
const lowerK = [[-1,0],[-0.9,0.06],[-0.8,0.15],[-0.7,0.3],[-0.6,0.46],[-0.5,0.62],[-0.4,0.77],[-0.37,0.83],[-0.35,0.85],[-0.34,0.8],[-0.33,0.71],[-0.32,0.5],[-0.31,0.25],[-0.3,-0.12],[-0.29,-0.4],[-0.28,-0.62],[-0.27,-0.8],[-0.26,-0.93],[-0.25,-0.98],[-0.24,-1.05],[-0.23,-1.1],[-0.22,-1.17],[-0.21,-1.19],[-0.2,-1.22],[-0.19,-1.3],[-0.18,-1.27],[-0.17,-1.37],[-0.16,-1.32],[-0.15,-1.41],[-0.14,-1.37],[-0.13,-1.46],[-0.12,-1.4],[-0.11,-1.44],[-0.1,-1.39],[-0.09,-1.48],[-0.08,-1.43],[-0.07,-1.5],[-0.06,-1.45],[-0.05,-1.51],[-0.04,-1.44],[-0.03,-1.49],[-0.02,-1.42],[-0.01,-1.46],[0,-1.38],[0.01,-1.44],[0.02,-1.37],[0.03,-1.41],[0.04,-1.35],[0.05,-1.38],[0.06,-1.32],[0.07,-1.35],[0.08,-1.29],[0.09,-1.32],[0.1,-1.26],[0.12,-1.29],[0.14,-1.22],[0.16,-1.24],[0.18,-1.17],[0.2,-1.15],[0.22,-1.1],[0.25,-1.02],[0.26,-0.98],[0.27,-0.93],[0.28,-0.83],[0.29,-0.79],[0.3,-0.77],[0.35,-0.71],[0.4,-0.67],[0.45,-0.62],[0.5,-0.57],[0.55,-0.52],[0.6,-0.48],[0.65,-0.43],[0.7,-0.38],[0.75,-0.33],[0.8,-0.28],[0.85,-0.22],[0.9,-0.15],[0.95,-0.08],[1,0]];

// ---------------- panel (l) ----------------
const meanL = [[-1,0],[-0.9,0.07],[-0.8,0.14],[-0.7,0.2],[-0.67,0.22],[-0.65,0.23],[-0.63,0.25],[-0.62,0.24],[-0.61,0.22],[-0.6,0.2],[-0.59,0.19],[-0.58,0.17],[-0.57,0.16],[-0.56,0.15],[-0.55,0.14],[-0.54,0.12],[-0.53,0.11],[-0.52,0.1],[-0.51,0.07],[-0.5,0.06],[-0.49,0.03],[-0.48,0.06],[-0.47,0.01],[-0.46,0.05],[-0.45,0.02],[-0.44,0.06],[-0.43,-0.01],[-0.42,0.04],[-0.41,0.0],[-0.4,0.05],[-0.39,-0.02],[-0.38,0.03],[-0.37,-0.01],[-0.36,0.04],[-0.35,-0.03],[-0.34,0.02],[-0.33,-0.04],[-0.32,0.01],[-0.31,-0.03],[-0.3,0.03],[-0.29,-0.04],[-0.28,0.0],[-0.27,-0.05],[-0.26,-0.01],[-0.25,-0.06],[-0.24,-0.01],[-0.23,-0.05],[-0.22,0.0],[-0.21,-0.06],[-0.2,-0.02],[-0.19,-0.07],[-0.18,-0.02],[-0.17,-0.06],[-0.16,-0.01],[-0.15,-0.08],[-0.14,-0.03],[-0.13,-0.07],[-0.12,-0.02],[-0.11,-0.08],[-0.1,-0.03],[-0.09,-0.07],[-0.08,-0.02],[-0.07,-0.06],[-0.06,-0.03],[-0.05,-0.07],[-0.04,-0.02],[-0.03,-0.06],[-0.02,-0.01],[-0.01,-0.07],[0,0.02],[0.01,-0.02],[0.02,0.07],[0.03,0.01],[0.04,0.06],[0.05,0.0],[0.06,0.05],[0.07,-0.01],[0.08,0.05],[0.09,0.0],[0.1,0.03],[0.11,-0.02],[0.12,0.03],[0.13,-0.02],[0.14,0.04],[0.15,-0.03],[0.16,0.02],[0.17,-0.02],[0.18,0.03],[0.19,-0.03],[0.2,0.02],[0.21,-0.01],[0.22,0.04],[0.23,-0.01],[0.24,0.02],[0.25,-0.04],[0.26,0.01],[0.27,-0.03],[0.28,0.02],[0.29,-0.03],[0.3,0.0],[0.31,-0.04],[0.32,-0.01],[0.33,-0.06],[0.34,-0.03],[0.35,-0.08],[0.36,-0.05],[0.37,-0.1],[0.38,-0.08],[0.39,-0.11],[0.4,-0.12],[0.41,-0.13],[0.42,-0.14],[0.43,-0.16],[0.44,-0.17],[0.45,-0.2],[0.46,-0.21],[0.47,-0.22],[0.48,-0.23],[0.49,-0.25],[0.5,-0.27],[0.51,-0.28],[0.52,-0.29],[0.53,-0.3],[0.54,-0.31],[0.55,-0.31],[0.57,-0.3],[0.6,-0.27],[0.7,-0.21],[0.8,-0.14],[0.9,-0.07],[1,0]];
const upperL = [[-1,0],[-0.9,0.09],[-0.8,0.16],[-0.7,0.24],[-0.67,0.27],[-0.66,0.32],[-0.65,0.38],[-0.64,0.45],[-0.63,0.51],[-0.62,0.56],[-0.6,0.61],[-0.58,0.66],[-0.56,0.64],[-0.54,0.69],[-0.52,0.66],[-0.5,0.71],[-0.48,0.67],[-0.46,0.72],[-0.44,0.69],[-0.42,0.74],[-0.4,0.7],[-0.38,0.76],[-0.36,0.72],[-0.34,0.77],[-0.32,0.73],[-0.3,0.79],[-0.28,0.75],[-0.26,0.81],[-0.24,0.77],[-0.22,0.8],[-0.2,0.78],[-0.18,0.84],[-0.16,0.79],[-0.14,0.83],[-0.12,0.8],[-0.1,0.85],[-0.08,0.79],[-0.06,0.83],[-0.04,0.81],[-0.02,0.88],[0,0.93],[0.01,0.86],[0.02,0.9],[0.04,0.85],[0.06,0.89],[0.08,0.83],[0.1,0.86],[0.12,0.79],[0.14,0.83],[0.16,0.77],[0.18,0.81],[0.2,0.76],[0.22,0.82],[0.24,0.77],[0.26,0.83],[0.28,0.78],[0.3,0.81],[0.32,0.74],[0.34,0.76],[0.36,0.7],[0.38,0.73],[0.4,0.68],[0.42,0.7],[0.44,0.66],[0.46,0.62],[0.47,0.55],[0.48,0.49],[0.49,0.35],[0.5,0.19],[0.51,0.05],[0.52,-0.07],[0.53,-0.15],[0.55,-0.23],[0.57,-0.25],[0.6,-0.23],[0.7,-0.17],[0.8,-0.11],[0.9,-0.05],[1,0]];
const lowerL = [[-1,0],[-0.9,0.05],[-0.8,0.11],[-0.7,0.16],[-0.67,0.17],[-0.65,0.12],[-0.64,0.05],[-0.63,-0.03],[-0.62,-0.1],[-0.61,-0.18],[-0.6,-0.25],[-0.58,-0.35],[-0.56,-0.41],[-0.54,-0.5],[-0.52,-0.52],[-0.5,-0.6],[-0.48,-0.58],[-0.46,-0.66],[-0.44,-0.63],[-0.42,-0.73],[-0.4,-0.69],[-0.38,-0.78],[-0.36,-0.74],[-0.34,-0.82],[-0.32,-0.78],[-0.3,-0.85],[-0.28,-0.8],[-0.26,-0.86],[-0.24,-0.82],[-0.22,-0.88],[-0.2,-0.84],[-0.18,-0.87],[-0.16,-0.83],[-0.14,-0.9],[-0.12,-0.85],[-0.1,-0.89],[-0.08,-0.84],[-0.06,-0.88],[-0.04,-0.85],[-0.02,-0.9],[0,-0.93],[0.02,-0.86],[0.04,-0.88],[0.06,-0.83],[0.08,-0.87],[0.1,-0.82],[0.12,-0.85],[0.14,-0.81],[0.16,-0.84],[0.18,-0.8],[0.2,-0.84],[0.22,-0.79],[0.24,-0.83],[0.26,-0.79],[0.28,-0.82],[0.3,-0.78],[0.32,-0.82],[0.34,-0.78],[0.36,-0.81],[0.38,-0.77],[0.4,-0.8],[0.42,-0.76],[0.43,-0.73],[0.45,-0.66],[0.47,-0.59],[0.48,-0.55],[0.5,-0.47],[0.52,-0.39],[0.53,-0.36],[0.55,-0.33],[0.6,-0.3],[0.7,-0.23],[0.8,-0.16],[0.9,-0.09],[1,0]];

// ---------------- panel definitions ----------------
const panelSeries = [
  { mean: meanA, exact: exactT0, upper: upperA, lower: lowerA, data: dataA, yRange: [-1.65, 1.84], yTicks: [-1, 0, 1], smooth: 0.3 },
  { mean: meanB, exact: exactT025, upper: upperB, lower: lowerB, data: null, yRange: [-1.61, 1.72], yTicks: [-1, 0, 1], smooth: 0.3 },
  { mean: meanC, exact: exactT05, upper: upperC, lower: lowerC, data: null, yRange: [-1.59, 1.71], yTicks: [-1, 0, 1], smooth: 0 },
  { mean: meanD, exact: exactT1, upper: upperD, lower: lowerD, data: null, yRange: [-1.35, 1.36], yTicks: [-1, 0, 1], smooth: 0 },
  { mean: meanE, exact: exactT0, upper: upperE, lower: lowerE, data: dataE, yRange: [-1.77, 2.37], yTicks: [-1, 0, 1, 2], smooth: 0.3 },
  { mean: meanF, exact: exactT025, upper: upperF, lower: lowerF, data: null, yRange: [-1.75, 1.78], yTicks: [-1, 0, 1], smooth: 0.3 },
  { mean: meanG, exact: exactT05, upper: upperG, lower: lowerG, data: null, yRange: [-1.73, 1.73], yTicks: [-1, 0, 1], smooth: 0 },
  { mean: meanH, exact: exactT1, upper: upperH, lower: lowerH, data: null, yRange: [-1.43, 1.34], yTicks: [-1, 0, 1], smooth: 0 },
  { mean: meanI, exact: exactT0, upper: upperI, lower: lowerI, data: dataI, yRange: [-2.2, 1.57], yTicks: [-2, -1, 0, 1], smooth: 0 },
  { mean: meanJ, exact: exactT025, upper: upperJ, lower: lowerJ, data: null, yRange: [-1.82, 1.43], yTicks: [-1, 0, 1], smooth: 0 },
  { mean: meanK, exact: exactT05, upper: upperK, lower: lowerK, data: null, yRange: [-1.65, 1.74], yTicks: [-1, 0, 1], smooth: 0 },
  { mean: meanL, exact: exactT1, upper: upperL, lower: lowerL, data: null, yRange: [-1.01, 1.01], yTicks: [-1, 0, 1], smooth: 0 },
];

// ---------------- layout (pixels) ----------------
const layouts = [
  { l: 61, t: 31, r: 420.7, b: 258.7, tx: 234.2, ty: 16.3, lg: { right: 1507.7, top: 39.3 }, cx: 208, cy: 377, row: 0 },
  { l: 559, t: 31, r: 918, b: 258.7, tx: 742.5, ty: 16.7, lg: { right: 1010, top: 39.3 }, cx: 705, cy: 377, row: 0 },
  { l: 1056.7, t: 31, r: 1415.7, b: 258.7, tx: 1233, ty: 16.3, lg: { right: 512.3, top: 39.3 }, cx: 1202, cy: 377, row: 0 },
  { l: 1573.3, t: 31, r: 1913.3, b: 258.7, tx: 1752.3, ty: 16.3, lg: { right: 14.7, top: 39.3 }, cx: 1697, cy: 377, row: 0 },
  { l: 61, t: 500, r: 420.7, b: 727.7, tx: 239.7, ty: 485, lg: { right: 1507.7, top: 508.3 }, cx: 208, cy: 847, row: 1 },
  { l: 559, t: 500, r: 918, b: 727.7, tx: 749.2, ty: 485, lg: { right: 1010, top: 508.3 }, cx: 705, cy: 847, row: 1 },
  { l: 1056.7, t: 500, r: 1415.7, b: 727.7, tx: 1241.7, ty: 485, lg: { right: 512.3, top: 508.3 }, cx: 1202, cy: 847, row: 1 },
  { l: 1573.3, t: 500, r: 1913.3, b: 727.7, tx: 1748.7, ty: 485, lg: { right: 14.7, top: 508.3 }, cx: 1697, cy: 847, row: 1 },
  { l: 65.7, t: 972.7, r: 419, b: 1155.7, tx: 236.3, ty: 959.3, lg: { left: 74, top: 1044 }, cx: 208, cy: 1280, row: 2 },
  { l: 563.3, t: 972.7, r: 916.7, b: 1155.7, tx: 738.8, ty: 959.3, lg: { left: 572.3, top: 1069 }, cx: 705, cy: 1280, row: 2 },
  { l: 1061, t: 972.7, r: 1414.3, b: 1155.7, tx: 1233.8, ty: 959.3, lg: { right: 515, top: 981.7 }, cx: 1202, cy: 1280, row: 2 },
  { l: 1578.3, t: 972.7, r: 1911.7, b: 1155.7, tx: 1742.2, ty: 959.3, lg: { right: 16.7, top: 981.7 }, cx: 1697, cy: 1280, row: 2 },
];

const FONT = '"DejaVu Sans", sans-serif';
const SERIF = '"Liberation Serif", "DejaVu Serif", serif';
const GREEN = "#008000";
const RED = "#ff0000";
const BLUE = "#0000ff";
const BAND = "#bfbfbf";
const SPINE = "#333333";
const XMARK = "path://M0,0L2,0L5,3L8,0L10,0L10,2L7,5L10,8L10,10L8,10L5,7L2,10L0,10L0,8L3,5L0,2Z";
const XMARK_LEG = "path://M-5,-5L-4.99,-5L-4.99,-4.99Z M15,15L14.99,15L14.99,14.99Z M0,0L2,0L5,3L8,0L10,0L10,2L7,5L10,8L10,10L8,10L5,7L2,10L0,10L0,8L3,5L0,2Z";
const LINE_LEG = "path://M0,0L33,0L33,1.5L0,1.5Z";
const DASH_LEG = "path://M0,0h5.5v1.5h-5.5Z M8,0h5.5v1.5h-5.5Z M16,0h5.5v1.5h-5.5Z M24,0h5.5v1.5h-5.5Z M32,0h1v1.5h-1Z";

const styleByRow = [
  { tick: 18.7, title: 22.5, leg: 15.3, legLH: 16, iw: 33, ih: 12, gap: 6.6, pad: [4.5, 7, 6.5, 6], tpad: 7.7, xGap: 30.5, yGap: 38 },
  { tick: 18.7, title: 22.5, leg: 15.3, legLH: 16, iw: 33, ih: 12, gap: 6.6, pad: [4.5, 7, 6.5, 6], tpad: 7.7, xGap: 30.5, yGap: 38 },
  { tick: 19.5, title: 23.5, leg: 16.5, legLH: 17, iw: 35.7, ih: 13, gap: 7.4, pad: [5, 7.5, 7, 6.5], tpad: 8.3, xGap: 31, yGap: 42 },
];

function fmtX(v: number) {
  const i = xTicks.findIndex((t) => Math.abs(t - v) < 1e-9);
  return i >= 0 ? xTickLabels[i] : "";
}
function fmtY(v: number) {
  const i = yTicksAll.findIndex((t) => Math.abs(t - v) < 1e-9);
  return i >= 0 ? yTickLabelsAll[i] : "";
}

function bandRenderer(upper: number[][], lower: number[][], smooth: number) {
  return (params: any, api: any) => {
    if (params.dataIndex !== 0) return null;
    const pts = upper.map((p) => api.coord(p)).concat(lower.slice().reverse().map((p) => api.coord(p)));
    return {
      type: "polygon",
      shape: { points: pts, smooth: smooth },
      style: { fill: BAND, stroke: "none" },
      silent: true,
    };
  };
}

function buildOption() {
  const grid: any[] = [];
  const xAxis: any[] = [];
  const yAxis: any[] = [];
  const series: any[] = [];
  const legend: any[] = [];
  const graphic: any[] = [];

  panelSeries.forEach((p, i) => {
    const L = layouts[i];
    const S = styleByRow[L.row];
    grid.push({
      left: L.l, top: L.t, width: L.r - L.l, height: L.b - L.t,
      show: true, borderColor: SPINE, borderWidth: 1, backgroundColor: "transparent", containLabel: false,
    });
    xAxis.push({
      type: "value", gridIndex: i, min: -1.1, max: 1.1,
      axisLine: { show: true, onZero: false, lineStyle: { color: SPINE, width: 1 } },
      axisTick: { show: true, inside: false, length: 4, customValues: xTicks, lineStyle: { color: SPINE, width: 1 } },
      axisLabel: { show: true, customValues: xTicks, formatter: fmtX, margin: 7, fontSize: S.tick, fontFamily: FONT, color: "#000" },
      splitLine: { show: false },
      name: "x", nameLocation: "middle", nameGap: S.xGap,
      nameTextStyle: { fontSize: S.tick, fontFamily: FONT, color: "#000" },
    });
    yAxis.push({
      type: "value", gridIndex: i, min: p.yRange[0], max: p.yRange[1],
      axisLine: { show: true, onZero: false, lineStyle: { color: SPINE, width: 1 } },
      axisTick: { show: true, inside: false, length: 4, customValues: p.yTicks, lineStyle: { color: SPINE, width: 1 } },
      axisLabel: { show: true, customValues: p.yTicks, formatter: fmtY, margin: 8, fontSize: S.tick, fontFamily: FONT, color: "#000" },
      splitLine: { show: false },
      name: "u", nameLocation: "middle", nameGap: S.yGap,
      nameTextStyle: { fontSize: S.tick, fontFamily: FONT, color: "#000" },
    });
    series.push({
      type: "custom", name: "1 StD", xAxisIndex: i, yAxisIndex: i,
      data: [[0, 0]], renderItem: bandRenderer(p.upper, p.lower, p.smooth),
      itemStyle: { color: BAND }, silent: true, z: 1, clip: true,
    });
    series.push({
      type: "line", name: "mean", xAxisIndex: i, yAxisIndex: i, data: p.mean,
      symbol: "none", smooth: p.smooth ? p.smooth : false,
      lineStyle: { color: GREEN, width: 1.5 }, itemStyle: { color: GREEN }, silent: true, z: 2,
    });
    series.push({
      type: "line", name: "exact", xAxisIndex: i, yAxisIndex: i, data: p.exact,
      symbol: "none", smooth: p.smooth ? p.smooth : false,
      lineStyle: { color: RED, width: 1.5, type: [5.5, 2.5] }, itemStyle: { color: RED }, silent: true, z: 3,
    });
    const legData: any[] = [
      { name: "mean", icon: LINE_LEG, itemStyle: { color: GREEN, borderWidth: 0 } },
      { name: "exact", icon: DASH_LEG, itemStyle: { color: RED, borderWidth: 0 } },
      { name: "1 StD", icon: "rect", itemStyle: { color: BAND, opacity: 1, borderWidth: 0 } },
    ];
    if (p.data) {
      series.push({
        type: "scatter", name: "data", xAxisIndex: i, yAxisIndex: i, data: p.data,
        symbol: XMARK, symbolSize: 8, itemStyle: { color: BLUE }, silent: true, z: 4,
      });
      legData.push({ name: "data", icon: XMARK_LEG, itemStyle: { color: BLUE, borderWidth: 0 } });
    }
    legend.push({
      ...L.lg,
      orient: "vertical", align: "left",
      itemWidth: S.iw, itemHeight: S.ih, itemGap: S.gap, padding: S.pad,
      backgroundColor: "rgba(255,255,255,0.8)", borderColor: "#cccccc", borderWidth: 1, borderRadius: 4,
      selectedMode: false, symbolKeepAspect: true,
      textStyle: { fontSize: S.leg, fontFamily: FONT, color: "#000", lineHeight: S.legLH, padding: [0, 0, 0, S.tpad] },
      data: legData,
      z: 10,
    });
    graphic.push({
      type: "text", x: L.tx, y: L.ty, silent: true,
      style: { text: titles[i], fontSize: S.title, fontFamily: FONT, fill: "#000", align: "center", verticalAlign: "middle" },
    });
    graphic.push({
      type: "text", x: L.cx, y: L.cy, silent: true,
      style: { text: captions[i], fontSize: 38, fontFamily: SERIF, fill: "#000", align: "center", verticalAlign: "middle" },
    });
  });

  return {
    animation: false,
    backgroundColor: "#ffffff",
    grid, xAxis, yAxis, series, legend, graphic,
  };
}

export default function App() {
  const ref = useRef<HTMLDivElement>(null);
  useEffect(() => {
    if (!ref.current) return;
    const chart = echarts.init(ref.current, null, { renderer: "svg" });
    chart.setOption(buildOption() as any);
    return () => chart.dispose();
  }, []);
  return (
    <div
      ref={ref}
      style={{ position: "absolute", left: 0, top: 0, width: 1920, height: 1304, background: "#fff" }}
    />
  );
}
